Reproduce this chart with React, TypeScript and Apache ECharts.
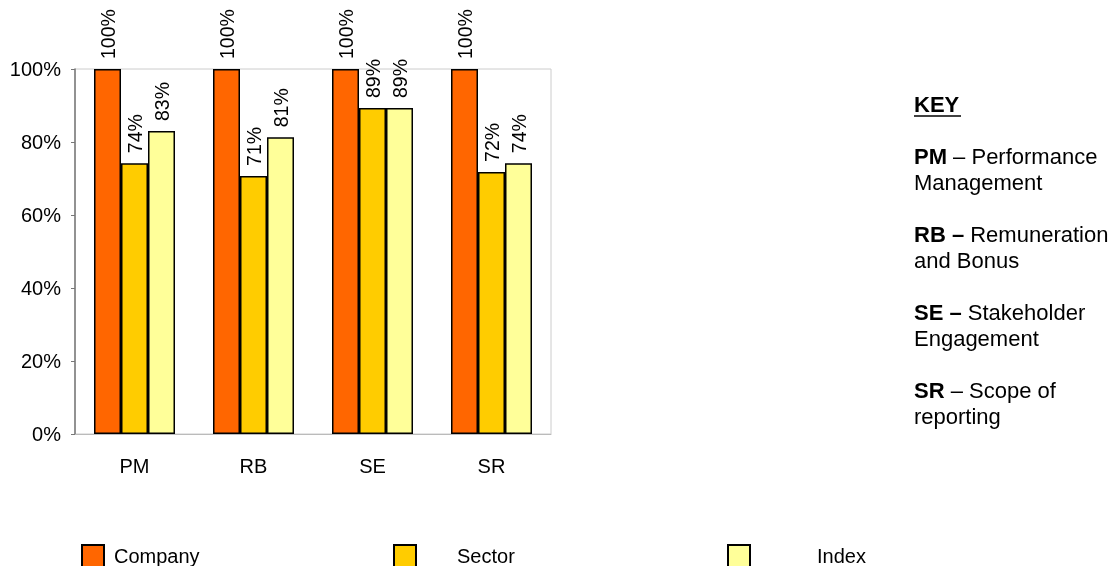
import React, { useEffect, useRef } from "react";
import * as echarts from "echarts";

const categories = ["PM", "RB", "SE", "SR"];
const companyValues = [100, 100, 100, 100];
const sectorValues = [74.2, 70.7, 89.3, 71.8];
const indexValues = [83.0, 81.3, 89.3, 74.2];
const seriesNames = ["Company", "Sector", "Index"];
const seriesColors = ["#FF6600", "#FFCC00", "#FFFF99"];
const yTicks = [0, 20, 40, 60, 80, 100];
const keyItems = [
  { abbr: "PM", dashBold: false, rest: "Performance", line2: "Management" },
  { abbr: "RB", dashBold: true, rest: "Remuneration", line2: "and Bonus" },
  { abbr: "SE", dashBold: true, rest: "Stakeholder", line2: "Engagement" },
  { abbr: "SR", dashBold: false, rest: "Scope of", line2: "reporting" },
];

const FONT = "'Liberation Sans', Arial, Helvetica, sans-serif";

export default function App() {
  const ref = useRef<HTMLDivElement>(null);
  useEffect(() => {
    if (!ref.current) return;
    const chart = echarts.init(ref.current, null, { renderer: "svg" });
    const allValues = [companyValues, sectorValues, indexValues];
    const series = seriesNames.map((name, i) => ({
      name,
      type: "bar",
      data: allValues[i],
      barWidth: 27,
      barGap: "0%",
      itemStyle: { color: seriesColors[i], borderColor: "#000", borderWidth: 1.5 },
      label: {
        show: true,
        position: "top",
        distance: 10,
        rotate: 90,
        align: "left",
        verticalAlign: "middle",
        fontFamily: FONT,
        fontSize: 19.5,
        color: "#000",
        formatter: (p: any) => Math.round(p.value) + "%",
      },
    }));
    const legendLefts = [81, 393, 727];
    const legendPads = [5, 36, 62];
    const legends = seriesNames.map((name, i) => ({
      data: [name],
      left: legendLefts[i],
      top: 544,
      itemWidth: 22,
      itemHeight: 22,
      icon: "rect",
      padding: 0,
      textStyle: { fontFamily: FONT, fontSize: 20, color: "#000", padding: [0, 0, 0, legendPads[i]] },
    }));
    const keyGraphics: any[] = [
      {
        type: "text",
        left: 914,
        top: 93,
        style: { text: "KEY", font: `bold 22px ${FONT}`, fill: "#000" },
      },
      {
        type: "line",
        shape: { x1: 914, y1: 116, x2: 961, y2: 116 },
        style: { stroke: "#000", lineWidth: 1.5 },
      },
    ];
    keyItems.forEach((k, i) => {
      keyGraphics.push({
        type: "text",
        left: 914,
        top: 143 + i * 78,
        style: {
          text: `{b|${k.abbr}${k.dashBold ? " –" : ""}}${k.dashBold ? "" : " –"} ${k.rest}\n${k.line2}`,
          fontFamily: FONT,
          fontSize: 22,
          lineHeight: 26,
          fill: "#000",
          rich: { b: { fontWeight: "bold", fontFamily: FONT, fontSize: 22, lineHeight: 26 } },
        },
      });
    });
    chart.setOption({
      animation: false,
      textStyle: { fontFamily: FONT },
      grid: {
        left: 75,
        right: 566,
        top: 69,
        bottom: 132,
        show: true,
        borderColor: "#ccc",
        borderWidth: 1,
      },
      legend: legends,
      xAxis: {
        type: "category",
        data: categories,
        axisLine: { lineStyle: { color: "#bbb", width: 1 } },
        axisTick: { show: false },
        axisLabel: { fontFamily: FONT, fontSize: 20, color: "#000", margin: 22 },
      },
      yAxis: {
        type: "value",
        min: yTicks[0],
        max: yTicks[yTicks.length - 1],
        interval: 20,
        splitLine: { show: false },
        axisLine: { show: true, lineStyle: { color: "#777", width: 1.5 } },
        axisTick: { show: true, length: 4, lineStyle: { color: "#777" } },
        axisLabel: { fontFamily: FONT, fontSize: 20, color: "#000", margin: 14, formatter: "{value}%" },
      },
      graphic: keyGraphics,
      series,
    });
    return () => chart.dispose();
  }, []);
  return <div ref={ref} style={{ position: "fixed", left: 0, top: 0, width: 1117, height: 566 }} />;
}
